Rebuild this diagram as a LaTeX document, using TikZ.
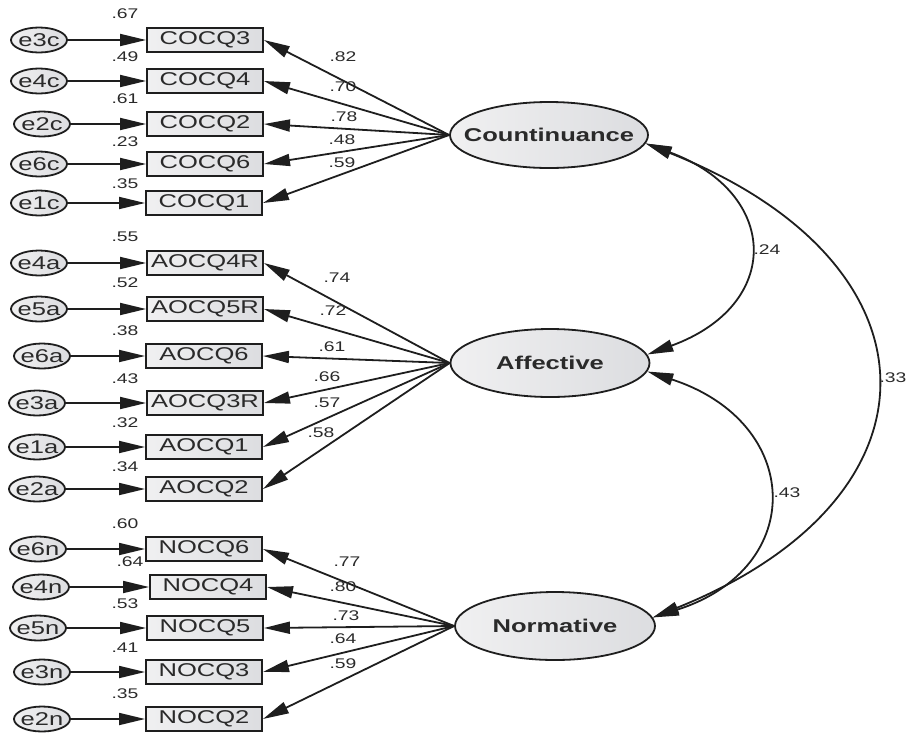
\documentclass[tikz,border=0pt]{standalone}
\usepackage{fontspec}
\setmainfont{Liberation Sans}[FakeStretch=1.38]
\usetikzlibrary{shapes.geometric,arrows.meta}
\definecolor{ln}{HTML}{1E1E1E}
\definecolor{tx}{HTML}{2A2A2A}
\definecolor{fillA}{HTML}{F0F0F1}
\definecolor{fillB}{HTML}{DCDDE0}
\newcommand\zw[1]{\makebox[0pt]{#1}}
\tikzset{
  obs/.style={draw=ln, line width=1.9pt, rectangle, minimum width=116pt, minimum height=24pt,
    inner sep=0pt, left color=fillA, right color=fillB, text=tx, font=\fontsize{18.5}{20}\selectfont},
  err/.style={draw=ln, line width=1.8pt, ellipse, minimum width=56pt, minimum height=25pt,
    inner sep=0pt, left color=fillA, right color=fillB, text=tx, font=\fontsize{18.5}{20}\selectfont},
  lat/.style={draw=ln, line width=1.8pt, ellipse, inner sep=0pt,
    left color=fillA, right color=fillB, text=tx, font=\bfseries\fontsize{18.5}{20}\selectfont},
  lab/.style={font=\fontsize{14}{15}\selectfont, inner sep=0pt, text=tx},
  arr/.style={draw=ln, line width=1.8pt, -{Triangle[length=26pt,width=12pt]}},
  cov/.style={draw=ln, line width=1.8pt, {Triangle[length=26pt,width=12pt]}-{Triangle[length=26pt,width=12pt]}},
}
\begin{document}
\begin{tikzpicture}[x=1pt,y=-1pt]
\useasboundingbox (0,0) rectangle (907,734);
\node[lat, minimum width=198pt, minimum height=66pt] (C) at (549,135) {\zw{Countinuance}};
\node[lat, minimum width=199pt, minimum height=68pt] (A) at (550,363) {\zw{Affective}};
\node[lat, minimum width=200pt, minimum height=68pt] (N) at (555,626) {\zw{Normative}};
\foreach \n/\t/\bx/\y/\ex/\et/\v/\vx/\vy/\lx/\ly/\l/\lt in {
  c3/COCQ3/205/40/39/e3c/.67/125/14/343/57/.82/C,
  c4/COCQ4/205/81/39/e4c/.49/125/57/343/87/.70/C,
  c2/COCQ2/205/124/42/e2c/.61/125/99/344/117/.78/C,
  c6/COCQ6/205/164/39/e6c/.23/125/142/342/140/.48/C,
  c1/COCQ1/204/203/39/e1c/.35/125/184/342/163/.59/C,
  a4/AOCQ4R/205/263/39/e4a/.55/125/237/337/278/.74/A,
  a5/AOCQ5R/205/309/39/e5a/.52/125/283/333/311/.72/A,
  a6/AOCQ6/204/356/42/e6a/.38/125/331/332/347/.61/A,
  a3/AOCQ3R/205/403/37/e3a/.43/125/379/327/377/.66/A,
  a1/AOCQ1/204/447/37/e1a/.32/125/423/327/403/.57/A,
  a2/AOCQ2/204/489/37/e2a/.34/125/467/321/433/.58/A,
  n6/NOCQ6/204/549/38/e6n/.60/125/524/347/562/.77/N,
  n4/NOCQ4/208/587/41/e4n/.64/130/562/343/587/.80/N,
  n5/NOCQ5/205/628/38/e5n/.53/125/604/346/616/.73/N,
  n3/NOCQ3/204/672/42/e3n/.41/125/648/343/639/.64/N,
  n2/NOCQ2/204/719/42/e2n/.35/125/694/343/664/.59/N}
{
  \node[obs] (\n) at (\bx,\y) {\t};
  \node[err] (e\n) at (\ex,\y) {\zw{\et}};
  \node[lab] (v\n) at (\vx,\vy) {\v};
  \draw[arr] (e\n) -- (\n);
  \draw[arr] (\lt.west) -- (\n.east);
  \node[lab] (l\n) at (\lx,\ly) {\l};
}
\draw[cov] (C.-5) .. controls (780,193) and (783,305) .. (A.5);
\node[lab] (r24) at (767,250) {.24};
\draw[cov] (C.-5) .. controls (948,263) and (951,498) .. (N.5);
\node[lab] (r33) at (893,378) {.33};
\draw[cov] (A.-5) .. controls (803,422) and (808,568) .. (N.5);
\node[lab] (r43) at (787,493) {.43};
\end{tikzpicture}
\end{document}
